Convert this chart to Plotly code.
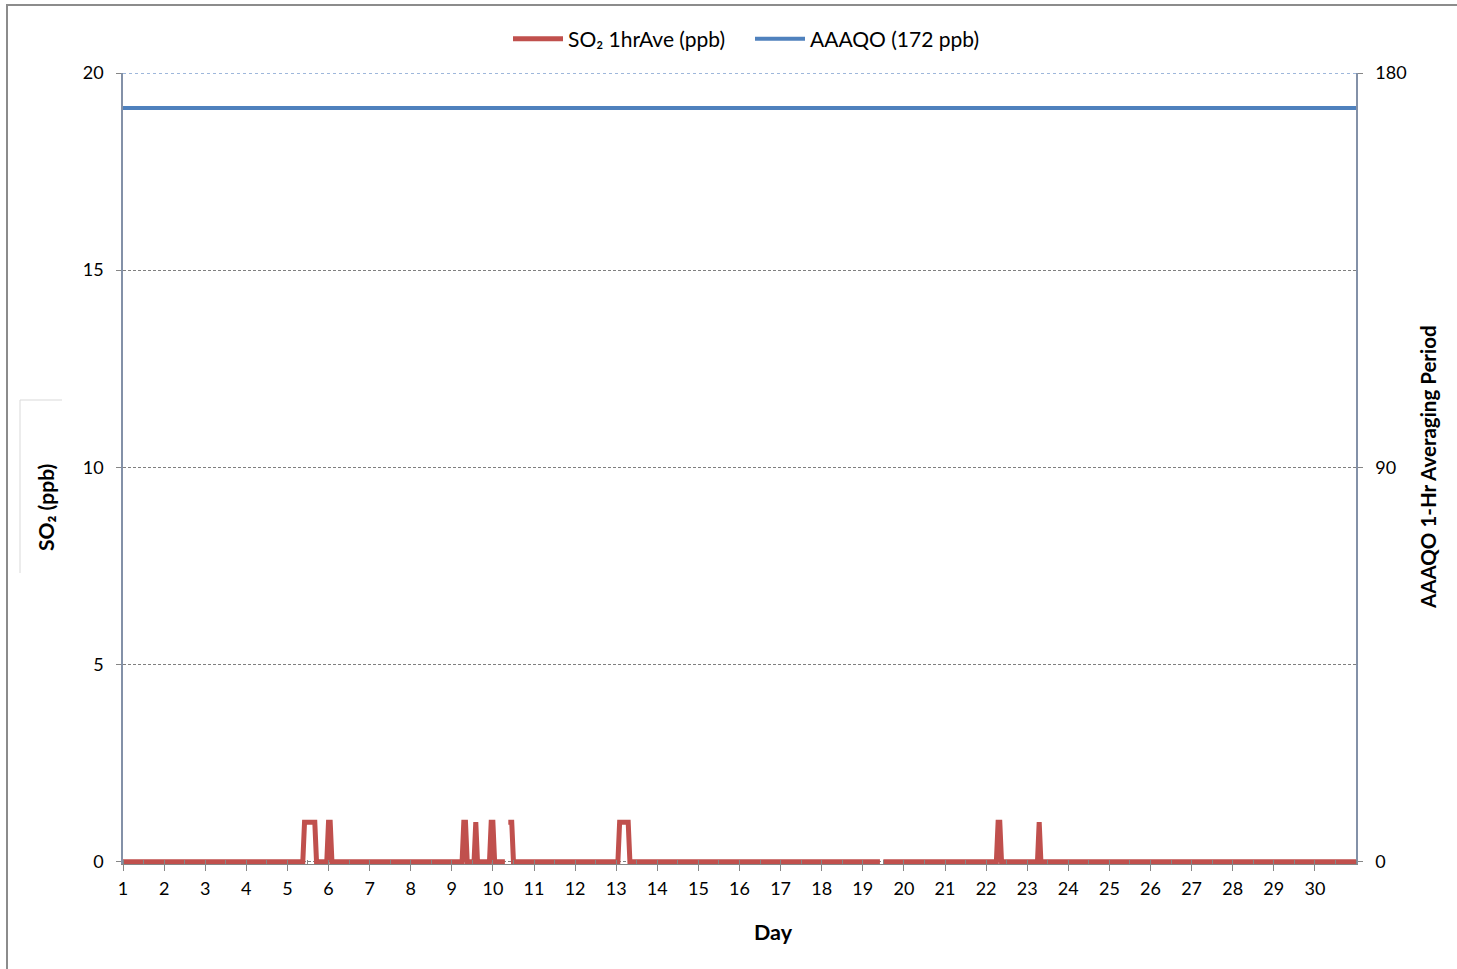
import plotly.graph_objects as go

N = None
# ---------------- data ----------------
# hourly SO2 1-hr averages (ppb), 24 values per day, days 1..30, plus 00:00 of day 31
so2_ppb = [
    0,0,0,0,0,0,0,0,0,0,0,0,0,0,0,0,0,0,0,0,0,0,0,0,  # day 1
    0,0,0,0,0,0,0,0,0,0,0,0,0,0,0,0,0,0,0,0,0,0,0,0,  # day 2
    0,0,0,0,0,0,0,0,0,0,0,0,0,0,0,0,0,0,0,0,0,0,0,0,  # day 3
    0,0,0,0,0,0,0,0,0,0,0,0,0,0,0,0,0,0,0,0,0,0,0,0,  # day 4
    0,0,0,0,0,0,0,0,0,0,1,1,1,1,1,1,1,0,0,0,0,0,0,0,  # day 5
    1,1,0,0,0,0,0,0,0,0,0,0,0,0,0,0,0,0,0,0,0,0,0,0,  # day 6
    0,0,0,0,0,0,0,0,0,0,0,0,0,0,0,0,0,0,0,0,0,0,0,0,  # day 7
    0,0,0,0,0,0,0,0,0,0,0,0,0,0,0,0,0,0,0,0,0,0,0,0,  # day 8
    0,0,0,0,0,0,0,1,1,0,0,0,0,0,1,0,0,0,0,0,0,0,0,1,  # day 9
    1,0,0,0,0,0,0,0,N,1,1,1,0,0,0,0,0,0,0,0,0,0,0,0,  # day 10
    0,0,0,0,0,0,0,0,0,0,0,0,0,0,0,0,0,0,0,0,0,0,0,0,  # day 11
    0,0,0,0,0,0,0,0,0,0,0,0,0,0,0,0,0,0,0,0,0,0,0,0,  # day 12
    0,0,1,1,1,1,1,1,0,0,0,0,0,0,0,0,0,0,0,0,0,0,0,0,  # day 13
    0,0,0,0,0,0,0,0,0,0,0,0,0,0,0,0,0,0,0,0,0,0,0,0,  # day 14
    0,0,0,0,0,0,0,0,0,0,0,0,0,0,0,0,0,0,0,0,0,0,0,0,  # day 15
    0,0,0,0,0,0,0,0,0,0,0,0,0,0,0,0,0,0,0,0,0,0,0,0,  # day 16
    0,0,0,0,0,0,0,0,0,0,0,0,0,0,0,0,0,0,0,0,0,0,0,0,  # day 17
    0,0,0,0,0,0,0,0,0,0,0,0,0,0,0,0,0,0,0,0,0,0,0,0,  # day 18
    0,0,0,0,0,0,0,0,0,0,0,N,0,0,0,0,0,0,0,0,0,0,0,0,  # day 19
    0,0,0,0,0,0,0,0,0,0,0,0,0,0,0,0,0,0,0,0,0,0,0,0,  # day 20
    0,0,0,0,0,0,0,0,0,0,0,0,0,0,0,0,0,0,0,0,0,0,0,0,  # day 21
    0,0,0,0,0,0,0,1,1,0,0,0,0,0,0,0,0,0,0,0,0,0,0,0,  # day 22
    0,0,0,0,0,0,0,1,0,0,0,0,0,0,0,0,0,0,0,0,0,0,0,0,  # day 23
    0,0,0,0,0,0,0,0,0,0,0,0,0,0,0,0,0,0,0,0,0,0,0,0,  # day 24
    0,0,0,0,0,0,0,0,0,0,0,0,0,0,0,0,0,0,0,0,0,0,0,0,  # day 25
    0,0,0,0,0,0,0,0,0,0,0,0,0,0,0,0,0,0,0,0,0,0,0,0,  # day 26
    0,0,0,0,0,0,0,0,0,0,0,0,0,0,0,0,0,0,0,0,0,0,0,0,  # day 27
    0,0,0,0,0,0,0,0,0,0,0,0,0,0,0,0,0,0,0,0,0,0,0,0,  # day 28
    0,0,0,0,0,0,0,0,0,0,0,0,0,0,0,0,0,0,0,0,0,0,0,0,  # day 29
    0,0,0,0,0,0,0,0,0,0,0,0,0,0,0,0,0,0,0,0,0,0,0,0,  # day 30
    0,                                                # day 31 00:00
]
aaaqo_days = [1, 31]
aaaqo_ppb = [172, 172]

day_ticks = list(range(1, 31))
day_labels = [str(d) for d in day_ticks]
left_ticks = [0, 5, 10, 15, 20]
right_ticks = [0, 90, 180]

# time axis (fractional day) for each hourly value
so2_days = [1 + i / 24 for i in range(len(so2_ppb))]

# ---------------- layout constants ----------------
W, H = 1457, 969
ML, MR, MT, MB = 123, W - 1356, 73, 105
PW, PH = W - ML - MR, H - MT - MB
FONT = "Lato"
RED = "#C0504D"
BLUE = "#4F81BD"
AX = "#8391A8"
GRAY = "#868686"


def px2x(px):
    return (px - ML) / PW


def px2y(py):
    return (H - MB - py) / PH


fig = go.Figure()
fig.add_trace(go.Scatter(
    x=so2_days, y=so2_ppb, mode="lines", name="SO₂ 1hrAve (ppb)",
    line=dict(color=RED, width=5), connectgaps=False, yaxis="y",
))
fig.add_trace(go.Scatter(
    x=aaaqo_days, y=aaaqo_ppb, mode="lines", name="AAAQO (172 ppb)",
    line=dict(color=BLUE, width=4), yaxis="y2",
))

ylo = -0.06
fig.update_layout(
    width=W, height=H,
    margin=dict(l=ML, r=MR, t=MT, b=MB, autoexpand=False),
    paper_bgcolor="white", plot_bgcolor="white",
    font=dict(family=FONT, size=18, color="black"),
    showlegend=True,
    legend=dict(orientation="h", x=px2x(508), xanchor="left", y=px2y(39),
                yanchor="middle", font=dict(size=21), bgcolor="rgba(0,0,0,0)",
                itemwidth=50, entrywidth=177, entrywidthmode="pixels",
                tracegroupgap=0),
    xaxis=dict(
        range=[1, 31], tickvals=day_ticks, ticktext=day_labels,
        ticks="outside", ticklen=6, tickcolor=GRAY, tickwidth=1,
        showline=True, linecolor=GRAY, linewidth=1, showgrid=False, zeroline=False,
        ticklabelstandoff=2,
        minor=dict(ticks="inside", dtick=0.5, tick0=1, ticklen=4, tickcolor=GRAY, showgrid=False),
        tickfont=dict(size=18),
    ),
    yaxis=dict(
        range=[ylo, 20], tickvals=left_ticks,
        ticks="outside", ticklen=5, tickcolor=GRAY,
        showline=True, linecolor=AX, linewidth=1.5,
        showgrid=True, gridcolor="#7F7F7F", gridwidth=1, griddash="3px,2px",
        zeroline=False, ticklabelstandoff=9, tickfont=dict(size=18),
    ),
    yaxis2=dict(
        range=[ylo * 9, 180], tickvals=right_ticks, overlaying="y", side="right",
        ticks="outside", ticklen=5, tickcolor=GRAY,
        showline=True, linecolor=AX, linewidth=1.5,
        showgrid=False, zeroline=False, ticklabelstandoff=9, tickfont=dict(size=18),
    ),
    annotations=[
        dict(text="SO₂ (ppb)", xref="paper", yref="paper", x=px2x(45), y=px2y(507),
             textangle=-90, showarrow=False, font=dict(size=21, weight="bold"),
             xanchor="center", yanchor="middle"),
        dict(text="AAAQO 1-Hr Averaging Period", xref="paper", yref="paper",
             x=px2x(1428), y=px2y(467), textangle=-90, showarrow=False,
             font=dict(size=20.5, weight="bold"), xanchor="center", yanchor="middle"),
        dict(text="Day", xref="paper", yref="paper", x=px2x(773), y=px2y(932),
             showarrow=False, font=dict(size=21.5, weight="bold"),
             xanchor="center", yanchor="middle"),
    ],
    shapes=[
        # outer chart border (left and top visible)
        dict(type="line", xref="paper", yref="paper", x0=px2x(7), x1=px2x(7),
             y0=px2y(5), y1=px2y(H + 5), line=dict(color="#8C8C8C", width=2)),
        dict(type="line", xref="paper", yref="paper", x0=px2x(6), x1=px2x(W + 5),
             y0=px2y(5), y1=px2y(5), line=dict(color="#8C8C8C", width=2)),
        # faint bracket near the left axis title
        dict(type="line", xref="paper", yref="paper", x0=px2x(20), x1=px2x(20),
             y0=px2y(400), y1=px2y(573), line=dict(color="#D9D9D9", width=1)),
        dict(type="line", xref="paper", yref="paper", x0=px2x(20), x1=px2x(62),
             y0=px2y(400), y1=px2y(400), line=dict(color="#D9D9D9", width=1)),
        # top edge of plot area
        dict(type="line", xref="paper", yref="y", x0=0, x1=1, y0=20, y1=20,
             line=dict(color="#7FA0CF", width=1.5, dash="dot"), layer="above"),
    ],
)

fig.write_html(
    "out.html",
    config={"displayModeBar": False},
    post_script="document.body.style.margin='0';document.body.style.padding='0';",
)
